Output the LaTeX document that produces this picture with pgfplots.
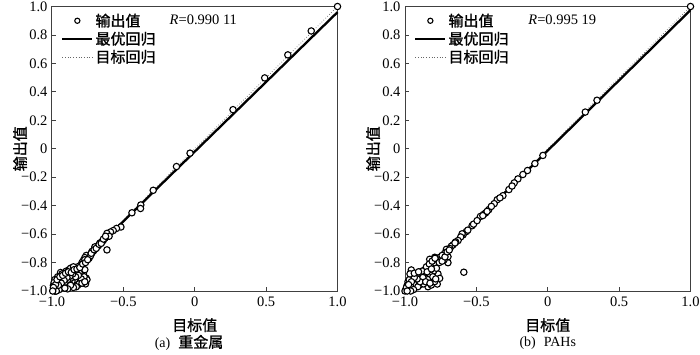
\documentclass[border=0pt]{standalone}
\usepackage{fontspec}
\setmainfont{Liberation Serif}
\newfontfamily\cjk{Noto Sans CJK SC}[FakeBold=1.2]
\usepackage{pgfplots}
\pgfplotsset{compat=1.18}

\pgfplotsset{
  mypanel/.style={
    scale only axis, width=285.5pt, height=284.5pt,
    xmin=-1, xmax=1, ymin=-1, ymax=1,
    xtick={-1,-0.5,0,0.5,1},
    xticklabels={−1.0,−0.5,0,0.5,1.0},
    ytick={-1,-0.8,-0.6,-0.4,-0.2,0,0.2,0.4,0.6,0.8,1},
    yticklabels={−1.0,−0.8,−0.6,−0.4,−0.2,0,0.2,0.4,0.6,0.8,1.0},
    tick align=inside, tick pos=left, major tick length=4pt,
    tick style={black!75, line width=0.8pt},
    axis line style={black!75, line width=1pt},
    ticklabel style={font=\fontsize{14.5}{16}\selectfont},
    xticklabel style={yshift=-2pt},
    yticklabel style={xshift=-1pt},
    clip=false,
    xlabel style={at={(axis description cs:0.5,-0.12)}, anchor=center, font=\cjk\fontsize{15}{17}\selectfont},
    ylabel style={at={(axis description cs:-0.112,0.5)}, anchor=center, font=\cjk\fontsize{15}{17}\selectfont},
    legend style={at={(rel axis cs:0,1)}, anchor=north west, xshift=9pt, yshift=-5pt,
      draw=none, fill=none, font=\cjk\fontsize{15}{17}\selectfont, row sep=0pt,
      inner sep=0pt, cells={anchor=west},
      /tikz/every even column/.append style={column sep=3pt}},
    reverse legend,
  },
  scat/.style={only marks, mark=*, mark size=3.2pt,
    mark options={fill=white, draw=black, line width=1.1pt},
    legend image code/.code={\draw[mark repeat=2,mark phase=2,##1,mark size=2.6pt] plot coordinates {(0pt,0pt) (15pt,0pt) (30pt,0pt)};}},
  fitl/.style={black, line width=2.3pt, legend image code/.code={\draw[##1] (0pt,0pt) -- (30pt,0pt);}},
  tgtl/.style={black!60, dotted, line width=0.7pt, legend image code/.code={\draw[##1] (0pt,0pt) -- (30pt,0pt);}},
}

\begin{document}
\begin{tikzpicture}
\useasboundingbox (-52pt,-63pt) rectangle (648pt,291pt);
\begin{axis}[mypanel, at={(0pt,0pt)}, anchor=south west,
  xlabel={目标值}, ylabel={输出值}]
\addplot[tgtl] coordinates {(-1,-1) (1,1)};
\addlegendentry{目标回归}
\addplot[fitl] coordinates {(-1,-1) (1,0.96)};
\addlegendentry{最优回归}
\addplot[scat] table {
x y
1.000 1.000
0.816 0.828
0.652 0.660
0.490 0.498
0.268 0.275
-0.033 -0.031
-0.128 -0.125
-0.291 -0.292
-0.378 -0.395
-0.380 -0.420
-0.440 -0.450
-0.517 -0.550
-0.548 -0.560
-0.571 -0.575
-0.590 -0.585
-0.615 -0.595
-0.600 -0.615
-0.615 -0.711
-0.629 -0.628
-0.641 -0.645
-0.652 -0.655
-0.664 -0.663
-0.676 -0.682
-0.688 -0.690
-0.699 -0.706
-0.710 -0.720
-0.722 -0.734
-0.735 -0.745
-0.746 -0.758
-0.760 -0.750
-0.770 -0.765
-0.740 -0.770
-0.730 -0.752
-0.720 -0.722
-0.700 -0.690
-0.780 -0.785
-0.790 -0.800
-0.770 -0.780
-0.800 -0.820
-0.820 -0.830
-0.830 -0.850
-0.840 -0.840
-0.850 -0.860
-0.860 -0.850
-0.870 -0.880
-0.880 -0.870
-0.890 -0.900
-0.900 -0.890
-0.910 -0.910
-0.920 -0.900
-0.930 -0.930
-0.940 -0.920
-0.950 -0.940
-0.960 -0.950
-0.970 -0.970
-0.980 -0.970
-0.990 -0.990
-0.980 -1.000
-0.970 -0.990
-0.960 -0.980
-0.990 -0.960
-0.985 -0.985
-0.975 -1.000
-0.940 -0.870
-0.930 -0.880
-0.900 -0.860
-0.880 -0.850
-0.960 -0.900
-0.980 -0.920
-0.985 -0.940
-0.870 -0.840
-0.850 -0.830
-0.760 -0.910
-0.765 -0.950
-0.780 -0.930
-0.800 -0.940
-0.820 -0.960
-0.840 -0.950
-0.860 -0.960
-0.880 -0.970
-0.900 -0.960
-0.920 -0.970
-0.940 -0.980
-0.800 -0.900
-0.820 -0.910
-0.840 -0.920
-0.860 -0.930
-0.880 -0.940
-0.900 -0.930
-0.920 -0.950
-0.940 -0.950
-0.960 -0.970
-0.830 -0.880
-0.850 -0.900
-0.870 -0.910
-0.890 -0.920
-0.910 -0.940
-0.930 -0.960
-0.950 -0.990
-0.970 -1.000
-0.780 -0.880
-0.790 -0.860
-0.810 -0.870
-0.770 -0.850
-0.755 -0.920
-0.775 -0.900
-0.795 -0.915
-0.815 -0.890
-0.835 -0.900
-0.855 -0.880
-0.875 -0.895
-0.895 -0.905
-0.915 -0.925
-0.935 -0.945
-0.955 -0.960
-0.975 -0.955
-0.990 -0.975
-0.995 -1.000
-0.965 -0.920
-0.945 -0.900
-0.925 -0.890
-0.905 -0.875
-0.885 -0.865
-0.865 -0.870
-0.845 -0.850
-0.825 -0.845
-0.805 -0.835
-0.785 -0.810
-0.765 -0.800
-0.750 -0.780
-0.725 -0.735
-0.705 -0.710
-0.690 -0.700
-0.670 -0.672
-0.655 -0.665
-0.640 -0.635
-0.625 -0.615
-0.810 -0.950
-0.830 -0.970
-0.850 -0.975
-0.870 -0.960
-0.890 -0.985
-0.910 -0.980
-0.790 -0.945
-0.770 -0.935
};
\addlegendentry{输出值}
\node[anchor=west, font=\fontsize{14.5}{16}\selectfont] at (axis cs:-0.2,0.905) {\textit{R}=0.990 11};
\node[font=\fontsize{14}{16}\selectfont] at (axis description cs:0.48,-0.182) {(a)\hspace{8pt}{\cjk\fontsize{15}{17}\selectfont 重金属}};
\end{axis}

\begin{axis}[mypanel, at={(353pt,0pt)}, anchor=south west,
  xlabel={目标值}, ylabel={输出值}]
\addplot[tgtl] coordinates {(-1,-1) (1,1)};
\addlegendentry{目标回归}
\addplot[fitl] coordinates {(-1,-1) (1,0.975)};
\addlegendentry{最优回归}
\addplot[scat] table {
x y
1.000 1.000
0.345 0.341
0.263 0.258
-0.034 -0.047
-0.090 -0.104
-0.142 -0.153
-0.174 -0.181
-0.209 -0.212
-0.235 -0.240
-0.272 -0.287
-0.314 -0.330
-0.354 -0.358
-0.375 -0.386
-0.413 -0.428
-0.436 -0.452
-0.450 -0.462
-0.472 -0.476
-0.530 -0.541
-0.570 -0.582
-0.593 -0.605
-0.600 -0.598
-0.610 -0.620
-0.628 -0.645
-0.645 -0.655
-0.663 -0.675
-0.675 -0.685
-0.686 -0.701
-0.588 -0.868
-0.710 -0.707
-0.722 -0.735
-0.757 -0.763
-0.699 -0.801
-0.699 -0.759
-0.727 -0.782
-0.769 -0.782
-0.792 -0.763
-0.827 -0.777
-0.816 -0.805
-0.769 -0.880
-0.757 -0.911
-0.774 -0.951
-0.804 -0.934
-0.839 -0.887
-0.862 -0.852
-0.886 -0.876
-0.909 -0.899
-0.932 -0.923
-0.956 -0.852
-0.944 -0.880
-0.979 -0.934
-0.967 -0.970
-0.991 -0.993
-0.932 -0.970
-0.897 -0.958
-0.862 -0.946
-0.839 -0.970
-0.816 -0.958
-0.792 -0.934
-0.851 -0.911
-0.886 -0.927
-0.921 -0.941
-0.956 -0.958
-0.979 -0.989
-1.000 -1.000
-0.740 -0.750
-0.780 -0.790
-0.800 -0.810
-0.820 -0.830
-0.840 -0.850
-0.860 -0.870
-0.880 -0.890
-0.900 -0.910
-0.920 -0.930
-0.940 -0.950
-0.960 -0.970
-0.980 -0.990
-0.950 -0.900
-0.970 -0.920
-0.985 -0.960
-0.900 -0.880
-0.920 -0.900
-0.880 -0.860
-0.850 -0.830
-0.830 -0.810
-0.810 -0.790
-0.790 -0.770
-0.870 -0.950
-0.910 -0.970
-0.940 -0.990
-0.960 -1.000
-0.990 -0.975
-0.985 -1.000
-0.760 -0.800
-0.800 -0.860
-0.820 -0.890
-0.840 -0.920
-0.780 -0.840
-0.740 -0.790
-0.720 -0.760
-0.705 -0.725
-0.690 -0.712
-0.650 -0.662
-0.560 -0.572
-0.520 -0.530
-0.495 -0.505
-0.455 -0.470
-0.425 -0.440
-0.395 -0.405
-0.335 -0.345
-0.250 -0.262
-0.875 -0.905
-0.895 -0.935
-0.915 -0.915
-0.935 -0.905
-0.955 -0.935
-0.975 -0.955
-0.965 -0.880
-0.935 -0.875
-0.905 -0.865
-0.855 -0.935
-0.825 -0.945
-0.805 -0.900
-0.785 -0.915
-0.845 -0.865
-0.815 -0.845
};
\addlegendentry{输出值}
\node[anchor=west, font=\fontsize{14.5}{16}\selectfont] at (axis cs:-0.16,0.905) {\textit{R}=0.995 19};
\node[font=\fontsize{14}{16}\selectfont] at (axis description cs:0.5,-0.182) {(b)\hspace{8pt}PAHs};
\end{axis}
\end{tikzpicture}
\end{document}
